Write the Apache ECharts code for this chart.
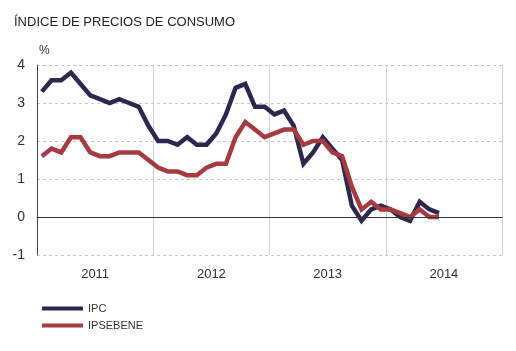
<!DOCTYPE html>
<html>
<head>
    <meta charset="utf-8">
    <title>Índice de precios de consumo</title>
    <script src="https://cdn.jsdelivr.net/npm/echarts@6/dist/echarts.min.js"></script>
    <style>
        html, body { margin: 0; padding: 0; background: #fff; }
        #chart { width: 516px; height: 351px; }
    </style>
</head>
<body>
    <div id="chart"></div>
    <script>
        // años (etiquetas del eje) y meses (posiciones de los puntos)
        var years = ['2011', '2012', '2013', '2014'];
        var months = [];
        for (var y = 0; y < years.length; y++) {
            for (var m = 1; m <= 12; m++) {
                months.push(years[y] + '-' + m);
            }
        }
        // ene 2011 - jun 2014
        var ipc = [3.3, 3.6, 3.6, 3.8, 3.5, 3.2, 3.1, 3.0, 3.1, 3.0, 2.9, 2.4,
                   2.0, 2.0, 1.9, 2.1, 1.9, 1.9, 2.2, 2.7, 3.4, 3.5, 2.9, 2.9,
                   2.7, 2.8, 2.4, 1.4, 1.7, 2.1, 1.8, 1.5, 0.3, -0.1, 0.2, 0.3,
                   0.2, 0.0, -0.1, 0.4, 0.2, 0.1];
        var ipsebene = [1.6, 1.8, 1.7, 2.1, 2.1, 1.7, 1.6, 1.6, 1.7, 1.7, 1.7, 1.5,
                        1.3, 1.2, 1.2, 1.1, 1.1, 1.3, 1.4, 1.4, 2.1, 2.5, 2.3, 2.1,
                        2.2, 2.3, 2.3, 1.9, 2.0, 2.0, 1.7, 1.6, 0.8, 0.2, 0.4, 0.2,
                        0.2, 0.1, 0.0, 0.2, 0.0, 0.0];

        var font = '"Liberation Sans", Arial, sans-serif';

        var chart = echarts.init(document.getElementById('chart'));
        var option = {
            animation: false,
            title: {
                text: 'ÍNDICE DE PRECIOS DE CONSUMO',
                left: 9, top: 11,
                textStyle: { fontFamily: font, fontSize: 13, fontWeight: 'normal', color: '#222' }
            },
            legend: {
                orient: 'vertical',
                left: 37, top: 298,
                itemWidth: 41, itemHeight: 4, itemGap: 6,
                icon: 'rect',
                textStyle: { fontFamily: font, fontSize: 11, color: '#333' },
                data: ['IPC', 'IPSEBENE']
            },
            grid: { left: 37, right: 14, top: 65, bottom: 96 },
            xAxis: [
                {
                    type: 'category',
                    data: years,
                    boundaryGap: true,
                    axisLine: { lineStyle: { color: '#444', width: 1 } },
                    axisTick: { inside: true, length: 5, lineStyle: { color: '#444' } },
                    splitLine: { show: true, lineStyle: { color: '#cfcfcf', width: 1 } },
                    axisLabel: { fontFamily: font, fontSize: 13, color: '#333', margin: 13 }
                },
                {
                    type: 'category',
                    data: months,
                    boundaryGap: true,
                    show: false
                }
            ],
            yAxis: {
                type: 'value',
                min: -1, max: 4, interval: 1,
                name: '%',
                nameGap: 8,
                nameTextStyle: { fontFamily: font, fontSize: 12, color: '#333', align: 'left', padding: [0, 0, 0, 2] },
                axisLine: { show: true, lineStyle: { color: '#444', width: 1 } },
                axisTick: { show: false },
                axisLabel: { fontFamily: font, fontSize: 14, color: '#333', margin: 12 },
                splitLine: { lineStyle: { color: '#c8c8c8', type: [3, 3], width: 1 } }
            },
            series: [
                {
                    type: 'line',
                    xAxisIndex: 1,
                    data: [],
                    z: 1,
                    silent: true,
                    markLine: {
                        silent: true,
                        symbol: 'none',
                        label: { show: false },
                        lineStyle: { color: '#333', type: 'solid', width: 1 },
                        data: [{ yAxis: 0 }]
                    }
                },
                {
                    name: 'IPC',
                    type: 'line',
                    xAxisIndex: 1,
                    data: ipc,
                    showSymbol: false,
                    z: 3,
                    itemStyle: { color: '#2d2750' },
                    lineStyle: { color: '#2d2750', width: 4.5, join: 'miter' }
                },
                {
                    name: 'IPSEBENE',
                    type: 'line',
                    xAxisIndex: 1,
                    data: ipsebene,
                    showSymbol: false,
                    z: 4,
                    itemStyle: { color: '#a63a40' },
                    lineStyle: { color: '#a63a40', width: 4.5, join: 'miter' }
                }
            ]
        };
        chart.setOption(option);
    </script>
</body>
</html>
